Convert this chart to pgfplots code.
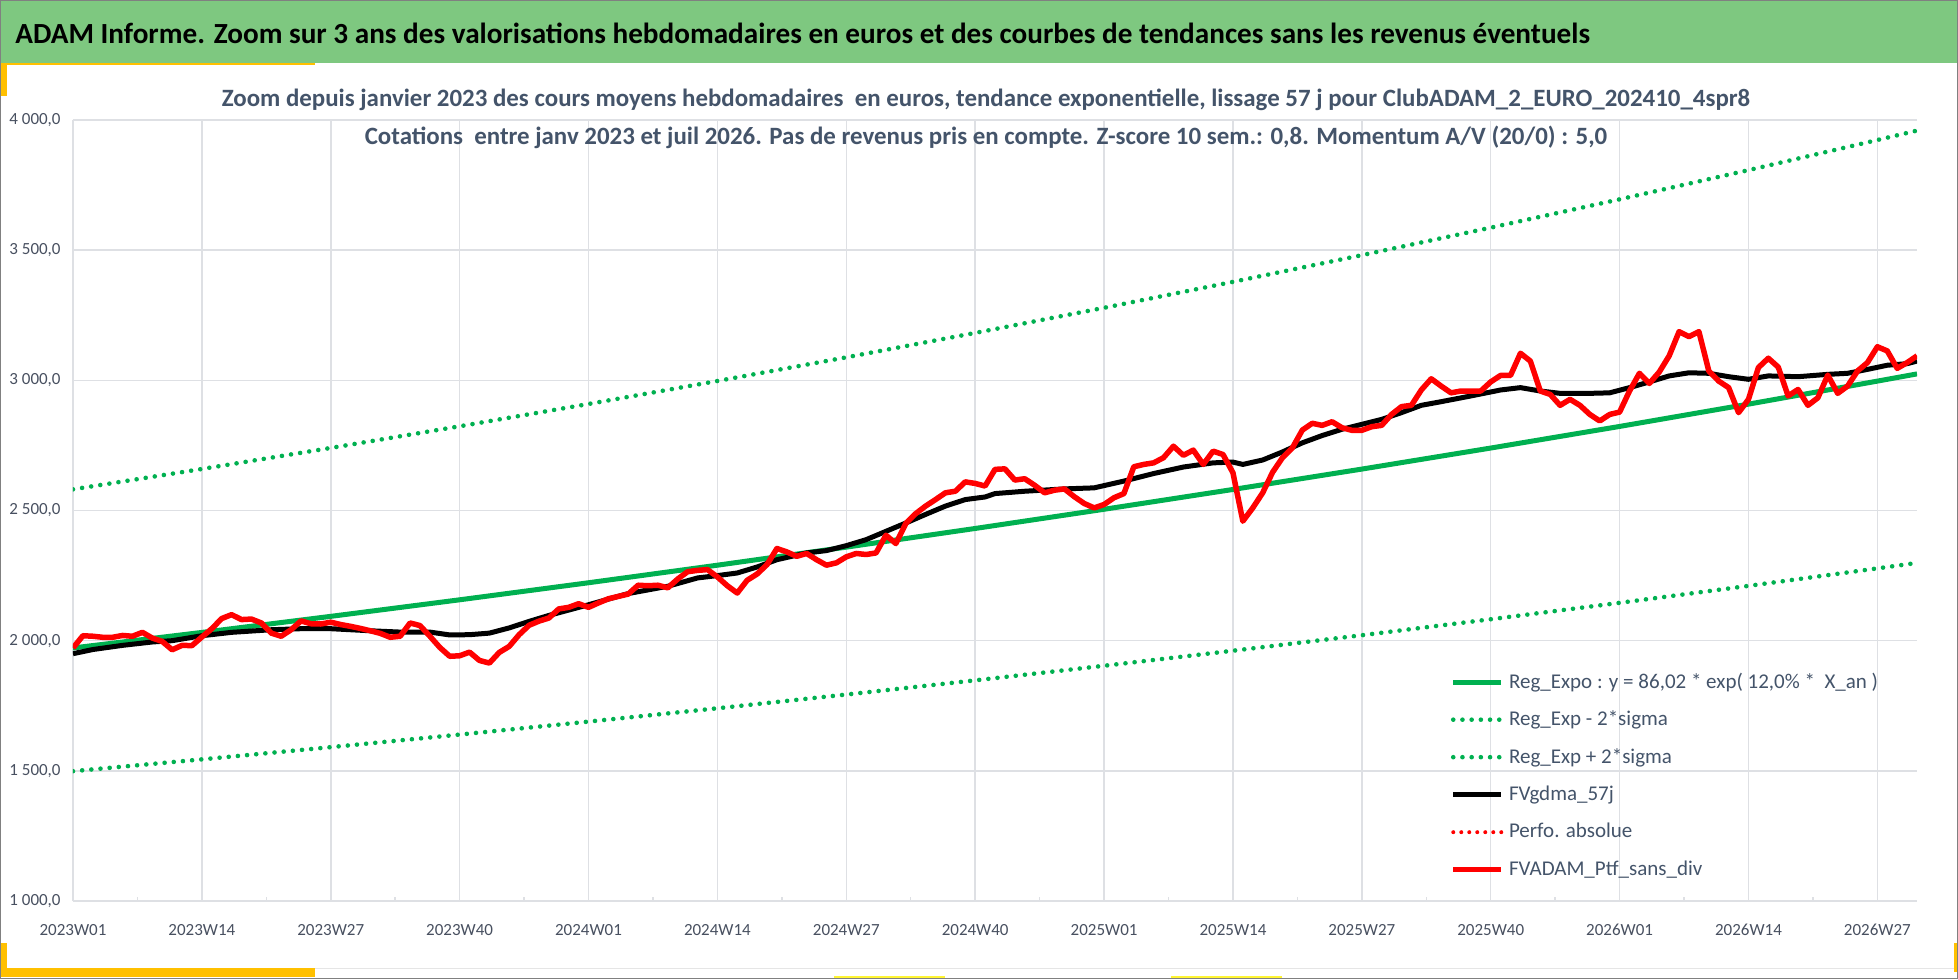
\documentclass[border=0pt]{standalone}
\usepackage{fontspec}
\setmainfont{Carlito}
\usepackage{pgfplots}
\pgfplotsset{compat=1.18}

\definecolor{bannergreen}{RGB}{126,200,128}
\definecolor{xlgreen}{RGB}{0,176,80}
\definecolor{txtblue}{RGB}{68,84,106}
\definecolor{gridgray}{RGB}{222,224,228}
\definecolor{accent}{RGB}{255,192,0}
\definecolor{ticktxt}{RGB}{72,80,96}

\begin{document}
\begin{tikzpicture}
\begin{scope}[x=0.5pt,y=-0.5pt]
\path[use as bounding box] (0,0) rectangle (1958,979);
\fill[white] (0,0) rectangle (1958,979);
\fill[bannergreen] (0,0) rectangle (1958,63);
\fill[accent] (0,63) rectangle (315,65.5);
\fill[accent] (0,63) rectangle (7,96);
\draw[gray!20, line width=0.5pt] (7,968) -- (1955,968);
\fill[accent] (0,968) rectangle (315,977);
\fill[accent] (0,943) rectangle (7,977);
\fill[yellow!80!white] (834,976) rectangle (945,978.5);
\fill[yellow!80!white] (1171,976) rectangle (1282,978.5);
\fill[accent] (1954,943) rectangle (1957,972);
\end{scope}

\begin{axis}[
  at={(36.5pt,-450.5pt)}, anchor=south west,
  width=922pt, height=390.5pt, scale only axis,
  xmin=0, xmax=186, ymin=1000, ymax=4000,
  axis line style={draw=none},
  xtick={0,13,...,182},
  xticklabels={2023W01,2023W14,2023W27,2023W40,2024W01,2024W14,2024W27,2024W40,2025W01,2025W14,2025W27,2025W40,2026W01,2026W14,2026W27},
  minor xtick={6.5,19.5,...,175.5},
  ytick={1000,1500,...,4000},
  yticklabels={{1 000,0},{1 500,0},{2 000,0},{2 500,0},{3 000,0},{3 500,0},{4 000,0}},
  xtick pos=bottom, ytick pos=left, tick align=inside,
  major tick length=0pt, minor tick length=2pt,
  minor tick style={gridgray, line width=0.75pt},
  grid=major, major grid style={gridgray, line width=0.75pt},
  ticklabel style={font=\fontsize{8.5}{10}\selectfont, text=ticktxt, inner sep=0pt},
  yticklabel style={anchor=east, xshift=-6pt},
  xticklabel style={anchor=center, yshift=-14.5pt},
  legend cell align=left,
  legend image code/.code={\draw[#1] (0pt,0pt) -- (24pt,0pt);},
  legend style={at={(0.7468,0.3047)}, anchor=north west, draw=none, fill=none,
    inner sep=0pt, font=\fontsize{10.5}{12}\selectfont, text=txtblue,
    row sep=0pt, column sep=2.5pt,
    nodes={inner sep=0pt, minimum height=18.75pt}},
]
\addplot[xlgreen, line width=2.5pt, line join=round] coordinates {
(0,1972) (13,2031.7) (26,2093.4) (39,2157.0) (52,2222.5) (65,2289.9) (78,2359.3) (91,2431.0)
(104,2504.7) (117,2580.8) (130,2659.1) (143,2739.9) (156,2822.9) (169,2908.6) (182,2997.0) (186,3024.7)};
\addlegendentry{Reg\_Expo : y = 86,02 * exp( 12,0\% *\ \ X\_an )}

\addplot[xlgreen, line width=2.3pt, line cap=round, dash pattern=on 0pt off 4.6pt] coordinates {
(0,1498.7) (13,1544.1) (26,1591.0) (39,1639.3) (52,1689.1) (65,1740.3) (78,1793.1) (91,1847.6)
(104,1903.6) (117,1961.4) (130,2020.9) (143,2082.3) (156,2145.4) (169,2210.5) (182,2277.7) (186,2298.8)};
\addlegendentry{Reg\_Exp - 2*sigma}

\addplot[xlgreen, line width=2.3pt, line cap=round, dash pattern=on 0pt off 4.6pt] coordinates {
(0,2581.3) (13,2659.5) (26,2740.3) (39,2823.5) (52,2909.2) (65,2997.5) (78,3088.3) (91,3182.2)
(104,3278.6) (117,3378.3) (130,3480.8) (143,3586.5) (156,3695.2) (169,3807.4) (182,3923.1) (186,3959.3)};
\addlegendentry{Reg\_Exp + 2*sigma}

\addplot[black, line width=2.5pt, line join=round] coordinates {
(0,1950) (2,1966) (5,1982) (8,1995) (10,2000) (13,2019) (16,2032) (20,2042) (23,2046) (26,2046)
(30,2038) (33,2033) (36,2033) (38,2022) (40,2023) (42,2029) (44,2049) (46,2074) (48,2097) (52,2138)
(56,2181) (60,2209) (63,2241) (65,2250) (67,2260) (69,2283) (71,2311) (74,2337) (76,2346) (78,2365)
(80,2388) (82,2420) (84,2452) (86,2485) (88,2517) (90,2542) (92,2552) (93,2565) (96,2574) (100,2583)
(103,2587) (106,2613) (109,2642) (112,2667) (115,2683) (117,2686) (118,2677) (120,2694) (122,2725)
(124,2760) (126,2788) (128,2812) (130,2831) (132,2850) (134,2876) (136,2904) (138,2918) (141,2940)
(144,2963) (146,2972) (148,2959) (150,2950) (153,2950) (155,2952) (157,2972) (159,2994) (161,3017)
(163,3029) (165,3027) (167,3014) (169,3004) (171,3017) (174,3014) (177,3023) (179,3027) (181,3042)
(183,3058) (185,3064) (186,3074)};
\addlegendentry{FVgdma\_57j}

\addlegendimage{red, line width=2pt, line cap=round, dash pattern=on 0pt off 4pt}
\addlegendentry{Perfo. absolue}

\addplot[red, line width=2.75pt, line join=round] coordinates {
(0,1972) (1,2019) (2,2017) (3,2013) (4,2013) (5,2020) (6,2017) (7,2032) (8,2010) (9,1997)
(10,1965) (11,1982) (12,1981) (13,2014) (14,2046) (15,2085) (16,2100) (17,2081) (18,2083) (19,2068)
(20,2029) (21,2017) (22,2042) (23,2076) (24,2065) (25,2064) (26,2071) (27,2062) (28,2055) (29,2047)
(30,2038) (31,2028) (32,2013) (33,2017) (34,2068) (35,2058) (36,2017) (37,1974) (38,1940) (39,1942)
(40,1956) (41,1924) (42,1914) (43,1955) (44,1978) (45,2023) (46,2059) (47,2075) (48,2087) (49,2122)
(50,2128) (51,2142) (52,2128) (53,2145) (54,2161) (55,2170) (56,2179) (57,2213) (58,2211) (59,2213)
(60,2203) (61,2237) (62,2265) (63,2270) (64,2273) (65,2245) (66,2211) (67,2183) (68,2232) (69,2256)
(70,2292) (71,2354) (72,2341) (73,2324) (74,2335) (75,2311) (76,2290) (77,2299) (78,2322) (79,2335)
(80,2331) (81,2337) (82,2405) (83,2373) (84,2450) (85,2488) (86,2517) (87,2542) (88,2568) (89,2574)
(90,2610) (91,2604) (92,2594) (93,2658) (94,2660) (95,2617) (96,2622) (97,2597) (98,2568) (99,2578)
(100,2583) (101,2553) (102,2527) (103,2510) (104,2523) (105,2549) (106,2565) (107,2668) (108,2677) (109,2683)
(110,2703) (111,2747) (112,2712) (113,2732) (114,2677) (115,2728) (116,2715) (117,2645) (118,2459) (119,2510)
(120,2568) (121,2647) (122,2703) (123,2741) (124,2809) (125,2835) (126,2827) (127,2841) (128,2818) (129,2808)
(130,2808) (131,2822) (132,2827) (133,2869) (134,2899) (135,2904) (136,2963) (137,3006) (138,2978) (139,2952)
(140,2959) (141,2959) (142,2959) (143,2994) (144,3019) (145,3019) (146,3104) (147,3074) (148,2959) (149,2946)
(150,2904) (151,2927) (152,2904) (153,2869) (154,2844) (155,2869) (156,2878) (157,2959) (158,3027) (159,2988)
(160,3032) (161,3094) (162,3187) (163,3168) (164,3187) (165,3036) (166,2997) (167,2972) (168,2876) (169,2927)
(170,3049) (171,3085) (172,3051) (173,2940) (174,2965) (175,2904) (176,2933) (177,3020) (178,2950) (179,2978)
(180,3036) (181,3068) (182,3129) (183,3113) (184,3046) (185,3068) (186,3094)};
\addlegendentry{FVADAM\_Ptf\_sans\_div}
\end{axis}

\begin{scope}[x=0.5pt,y=-0.5pt]
\node[anchor=west, inner sep=0pt, font=\bfseries\fontsize{14.6}{17}\selectfont] at (15,33)
  {ADAM Informe. Zoom sur 3 ans des valorisations hebdomadaires en euros et des courbes de tendances sans les revenus éventuels};
\node[inner sep=0pt, text=txtblue, font=\bfseries\fontsize{12.45}{15}\selectfont] at (986,100)
  {Zoom depuis janvier 2023 des cours moyens hebdomadaires\ \ en euros, tendance exponentielle, lissage 57 j pour ClubADAM\_2\_EURO\_202410\_4spr8};
\node[inner sep=0pt, text=txtblue, font=\bfseries\fontsize{12.45}{15}\selectfont] at (986,137)
  {Cotations\ \ entre janv 2023 et juil 2026. Pas de revenus pris en compte. Z-score 10 sem.: 0,8. Momentum A/V (20/0) : 5,0};
\draw[gray, line width=0.6pt] (0.6,0.6) rectangle (1957.4,978.4);
\end{scope}
\end{tikzpicture}
\end{document}
